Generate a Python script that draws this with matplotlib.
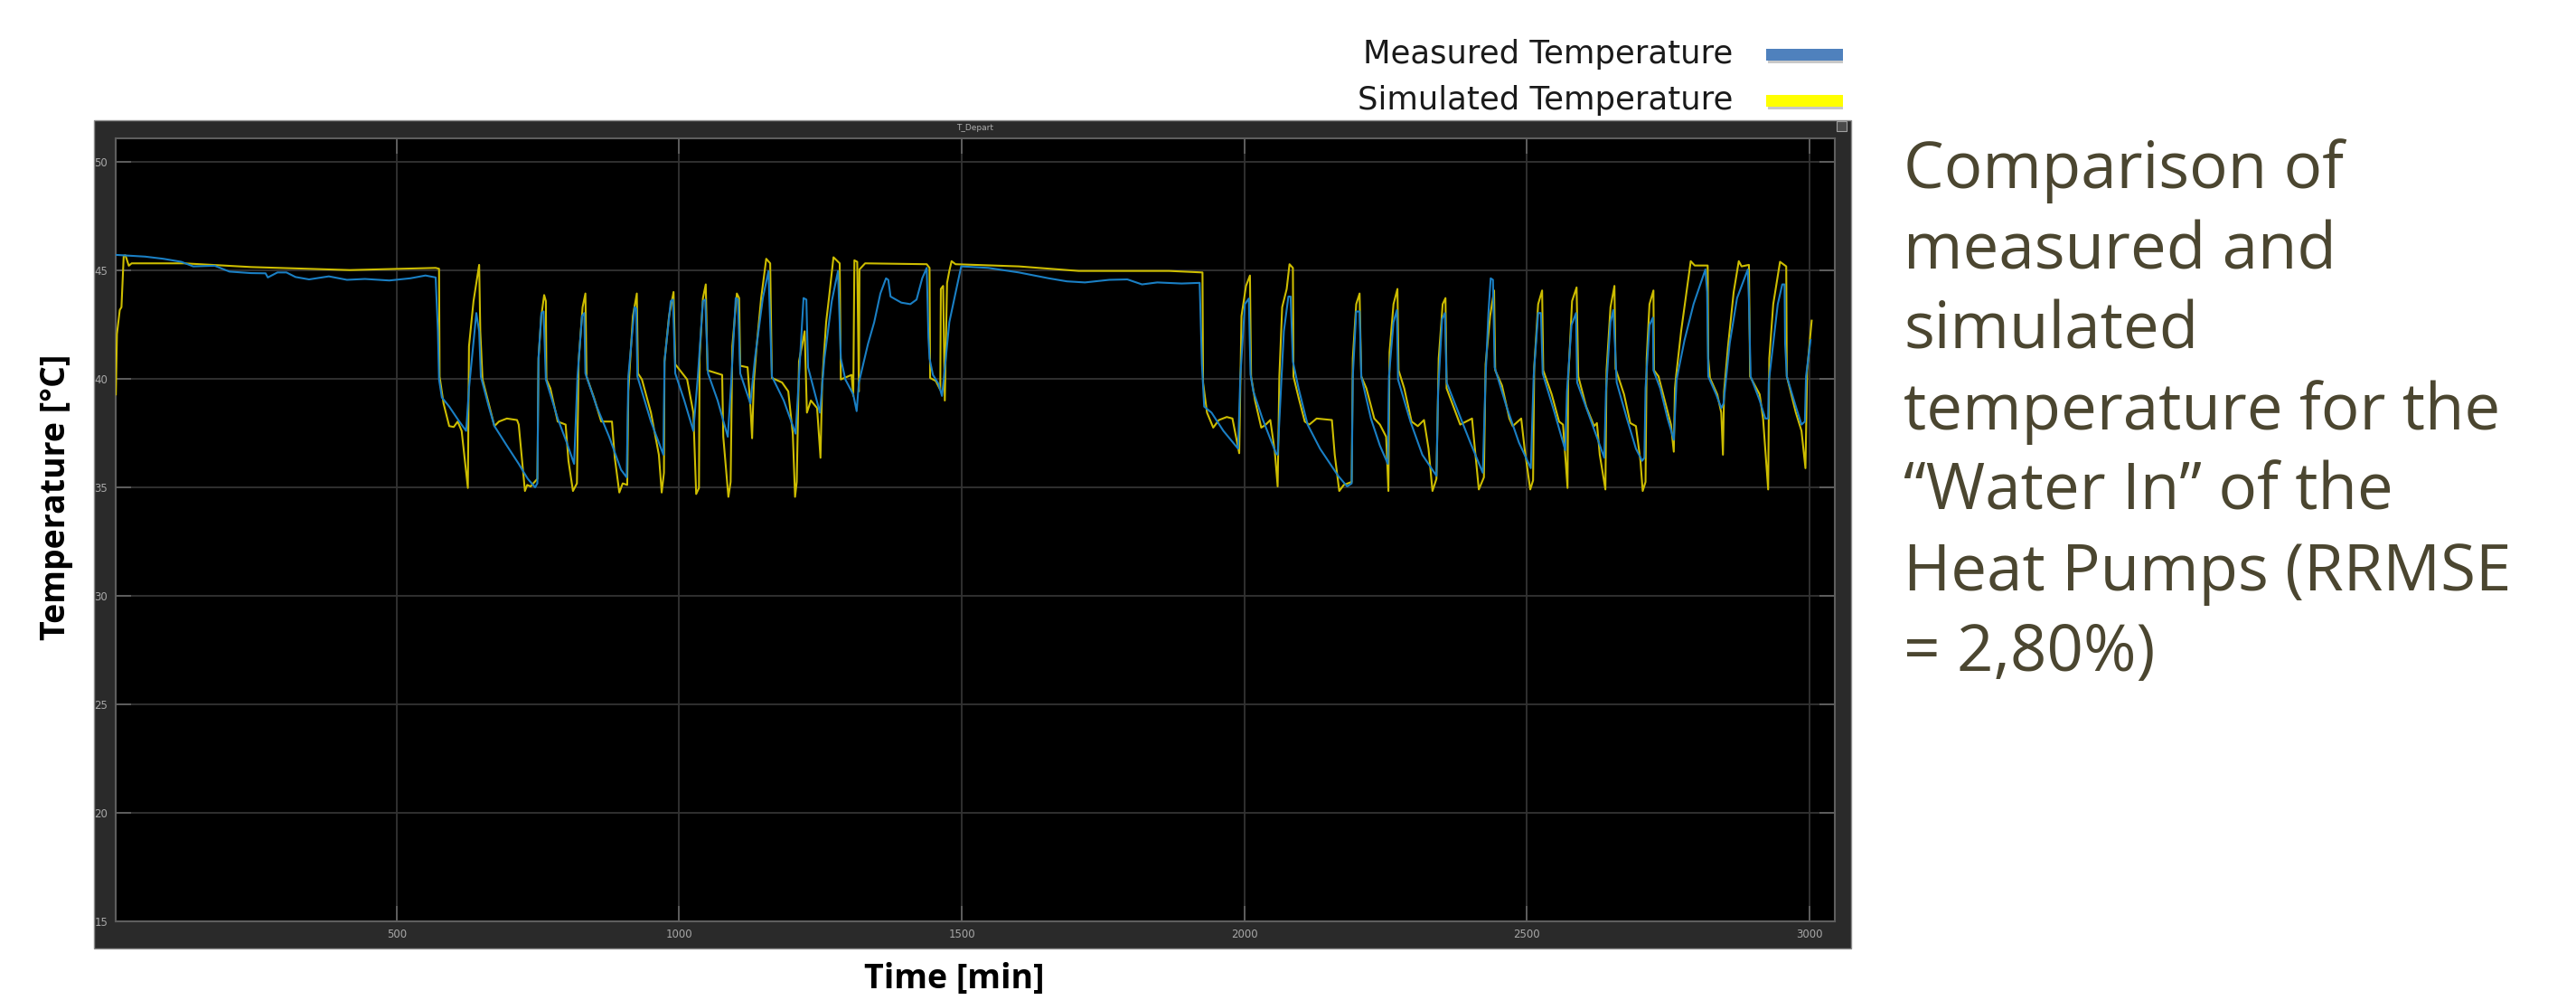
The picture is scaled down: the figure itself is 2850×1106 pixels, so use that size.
import matplotlib
matplotlib.use("Agg")
import matplotlib.pyplot as plt
from matplotlib.patches import Rectangle
import numpy as np

# measured water-in temperature, (time [min], temperature [degC])
measured = [
    (3, 45.71), (55, 45.63), (87, 45.53), (119, 45.39), (140, 45.18), (178, 45.21), (204, 44.94),
    (242, 44.87), (268, 44.86), (272, 44.67), (289, 44.9), (305, 44.9), (321, 44.69), (345, 44.58),
    (380, 44.72), (412, 44.56), (444, 44.6), (487, 44.53), (524, 44.63), (551, 44.76), (569, 44.67),
    (573, 42.19), (575, 39.97), (580, 39.14), (593, 38.72), (609, 38.1), (623, 37.6),
    (628, 39.56), (641, 43.03), (646, 42.19), (649, 40.1), (663, 38.72), (673, 37.82), (695, 36.92),
    (716, 36.08), (732, 35.39), (745, 35.0), (749, 35.18),
    (751, 40.94), (756, 43.03), (760, 43.1), (764, 39.97), (785, 38.17), (801, 37.06), (814, 36.08),
    (820, 40.11), (828, 42.89), (832, 43.03), (834, 40.25), (854, 38.72), (876, 37.33), (897, 35.81), (907, 35.46),
    (910, 40.11), (921, 43.3), (924, 43.24), (926, 40.11), (950, 38.03), (972, 36.5),
    (974, 40.8), (985, 43.58), (989, 43.65), (993, 40.25), (1009, 39.0), (1025, 37.6),
    (1033, 40.11), (1042, 43.58), (1046, 43.65), (1051, 40.25), (1068, 39.0), (1086, 37.33),
    (1092, 39.83), (1100, 43.72), (1104, 43.65), (1108, 40.25), (1126, 38.86),
    (1134, 40.94), (1148, 43.72), (1158, 44.97), (1164, 40.11), (1185, 39.0), (1206, 37.47),
    (1212, 40.11), (1220, 43.72), (1225, 43.65), (1228, 40.53), (1249, 38.44),
    (1257, 40.94), (1270, 43.58), (1281, 44.97), (1286, 40.94), (1294, 39.97), (1308, 39.28), (1314, 38.51), (1318, 39.83),
    (1334, 41.6), (1345, 42.6), (1356, 43.93), (1366, 44.63), (1370, 44.56), (1374, 43.79), (1393, 43.51),
    (1409, 43.44), (1420, 43.65), (1430, 44.63), (1438, 45.11),
    (1441, 41.92), (1443, 40.94), (1449, 40.18), (1459, 39.76), (1465, 39.21), (1467, 39.69),
    (1478, 42.61), (1494, 44.56), (1499, 45.18), (1547, 45.11), (1601, 44.9), (1654, 44.63), (1686, 44.49),
    (1718, 44.44), (1761, 44.56), (1793, 44.58), (1819, 44.35), (1846, 44.44), (1889, 44.39), (1921, 44.42),
    (1925, 40.67), (1929, 38.72), (1942, 38.44), (1963, 37.6), (1989, 36.78),
    (1993, 40.11), (2001, 43.44), (2008, 43.7), (2011, 40.2), (2016, 39.42), (2032, 38.17), (2056, 36.57), (2059, 36.5),
    (2062, 38.03), (2070, 42.19), (2078, 43.79), (2082, 43.79), (2086, 40.8), (2096, 39.56), (2112, 37.89),
    (2134, 36.78), (2166, 35.53), (2182, 35.04), (2190, 35.18),
    (2192, 40.11), (2198, 43.1), (2204, 43.1), (2207, 40.11), (2224, 38.17), (2240, 36.92), (2254, 36.08),
    (2256, 40.11), (2264, 42.61), (2270, 43.17), (2272, 39.97), (2294, 38.03), (2315, 36.5), (2340, 35.53),
    (2343, 39.42), (2350, 42.75), (2355, 43.03), (2358, 39.83), (2379, 38.44), (2400, 37.06), (2422, 35.67),
    (2427, 40.11), (2432, 43.03), (2436, 44.63), (2440, 44.56), (2443, 40.53), (2464, 38.72), (2486, 37.06), (2507, 35.88),
    (2512, 40.11), (2520, 43.03), (2525, 43.03), (2528, 40.25), (2549, 38.44), (2568, 36.71),
    (2571, 39.42), (2579, 42.47), (2587, 43.03), (2589, 39.83), (2614, 38.03), (2637, 36.36),
    (2640, 39.42), (2648, 42.61), (2653, 43.17), (2659, 39.83), (2677, 38.17), (2693, 36.78), (2704, 36.22), (2708, 36.36),
    (2710, 39.56), (2717, 42.47), (2723, 42.82), (2724, 40.39), (2736, 39.56), (2749, 38.17), (2760, 37.19),
    (2765, 39.97), (2779, 41.78), (2795, 43.44), (2816, 45.04), (2819, 44.0), (2821, 40.11), (2835, 39.28),
    (2844, 38.65), (2848, 38.86),
    (2859, 41.64), (2872, 43.72), (2891, 45.04), (2893, 43.58), (2896, 40.11), (2912, 39.0), (2922, 38.17), (2927, 38.17),
    (2928, 39.83), (2944, 43.44), (2952, 44.35), (2956, 44.35), (2957, 41.64), (2960, 40.11), (2976, 38.72),
    (2986, 37.89), (2992, 38.03), (2994, 40.11), (3002, 41.78),
]

# simulated water-in temperature
simulated = [
    (3, 39.28), (5, 42.06), (10, 43.17), (13, 43.3), (17, 45.67), (20, 45.69), (26, 45.21), (31, 45.32),
    (124, 45.32), (242, 45.15), (417, 45.01), (569, 45.11), (575, 45.07),
    (576, 40.1), (583, 38.86), (593, 37.82), (601, 37.78), (608, 38.03), (615, 37.6), (626, 34.97),
    (628, 41.5), (636, 43.58), (646, 45.25), (648, 42.19), (652, 39.97), (673, 37.82), (681, 38.03), (695, 38.17),
    (713, 38.1), (716, 37.89), (727, 34.83), (731, 35.11), (737, 35.04), (749, 35.39),
    (751, 40.94), (756, 42.89), (761, 43.86), (764, 43.58), (765, 39.97), (772, 39.56), (785, 38.03), (799, 37.89),
    (804, 36.22), (812, 34.83), (819, 35.18),
    (822, 40.8), (829, 43.3), (834, 43.93), (836, 40.11), (849, 39.14), (862, 38.03), (881, 38.03), (886, 36.36),
    (894, 34.76), (900, 35.18), (908, 35.11),
    (910, 39.42), (918, 42.89), (925, 43.93), (927, 40.25), (934, 39.97), (950, 38.44), (964, 36.5), (969, 34.76), (973, 35.67),
    (974, 40.8), (982, 42.89), (990, 44.0), (993, 40.67), (1014, 39.97), (1025, 38.44), (1030, 34.69), (1035, 34.97),
    (1036, 40.94), (1042, 43.72), (1047, 44.35), (1050, 40.39), (1076, 40.18), (1078, 37.33), (1087, 34.56), (1091, 35.25),
    (1094, 41.5), (1102, 43.93), (1106, 43.72), (1108, 40.6), (1121, 40.53), (1126, 38.72), (1129, 37.26), (1132, 39.83),
    (1137, 41.5), (1145, 43.72), (1154, 45.53), (1161, 45.32), (1164, 40.04), (1182, 39.83), (1193, 39.42),
    (1201, 37.47), (1205, 34.56), (1208, 35.25),
    (1212, 40.8), (1222, 42.19), (1226, 38.44), (1233, 39.0), (1244, 38.65), (1250, 36.36), (1253, 39.83),
    (1260, 42.61), (1265, 43.72), (1273, 45.6), (1284, 45.32),
    (1286, 39.97), (1305, 40.18), (1308, 39.21), (1310, 45.46), (1315, 45.39), (1318, 39.42), (1319, 45.04),
    (1329, 45.32), (1438, 45.28), (1443, 45.11),
    (1444, 40.04), (1454, 39.9), (1462, 39.49), (1463, 44.14), (1467, 44.28), (1470, 39.0), (1474, 44.42),
    (1478, 44.97), (1482, 45.42), (1489, 45.28), (1601, 45.18), (1707, 44.97), (1867, 44.97), (1926, 44.9),
    (1927, 39.83), (1934, 38.44), (1945, 37.75), (1955, 38.1), (1969, 38.24), (1979, 38.17), (1991, 36.57),
    (1995, 42.89), (2003, 44.28), (2010, 44.76), (2012, 40.11), (2019, 39.0), (2030, 37.75), (2038, 37.89),
    (2046, 38.1), (2054, 36.64), (2059, 35.04),
    (2062, 40.11), (2067, 43.3), (2075, 44.14), (2080, 45.28), (2086, 45.11), (2087, 40.11), (2096, 39.14),
    (2107, 38.03), (2115, 37.89), (2128, 38.17), (2155, 38.1), (2160, 36.5), (2168, 34.83), (2176, 35.11), (2190, 35.25),
    (2192, 40.94), (2198, 43.44), (2204, 43.93), (2207, 40.11), (2216, 39.56), (2230, 38.17), (2240, 37.89),
    (2251, 37.33), (2255, 34.83),
    (2257, 41.22), (2264, 43.44), (2271, 44.14), (2273, 40.39), (2283, 39.56), (2296, 38.03), (2307, 37.82),
    (2318, 38.1), (2326, 36.78), (2333, 34.83), (2340, 35.39),
    (2344, 40.94), (2351, 43.44), (2356, 43.72), (2358, 39.56), (2374, 38.44), (2382, 37.89), (2403, 38.17),
    (2406, 37.33), (2415, 34.9), (2424, 35.46),
    (2427, 40.67), (2435, 42.89), (2442, 44.07), (2444, 40.39), (2456, 39.69), (2469, 38.17), (2475, 37.82),
    (2490, 38.17), (2496, 36.78), (2506, 34.9), (2511, 35.32),
    (2513, 40.53), (2520, 43.44), (2527, 44.07), (2529, 40.39), (2544, 39.28), (2557, 38.03), (2564, 37.89), (2572, 34.97),
    (2573, 39.83), (2580, 43.58), (2588, 44.21), (2591, 40.11), (2605, 38.72), (2619, 37.82), (2624, 37.96),
    (2629, 36.5), (2639, 34.9),
    (2641, 40.39), (2648, 43.3), (2655, 44.28), (2657, 40.46), (2672, 39.28), (2683, 37.96), (2693, 37.82),
    (2701, 36.22), (2705, 34.83), (2710, 35.25),
    (2712, 40.94), (2717, 43.44), (2724, 44.07), (2725, 40.39), (2733, 40.11), (2744, 39.0), (2755, 37.89),
    (2760, 36.64), (2762, 39.56), (2764, 40.11),
    (2773, 42.19), (2781, 43.72), (2790, 45.42), (2797, 45.22), (2820, 45.22), (2821, 40.94), (2824, 40.04),
    (2837, 39.28), (2844, 38.44), (2847, 36.5), (2849, 39.42),
    (2856, 41.5), (2866, 44.0), (2875, 45.42), (2880, 45.18), (2893, 45.25), (2895, 40.11), (2912, 39.28),
    (2918, 38.17), (2927, 34.9), (2929, 40.94),
    (2936, 43.44), (2948, 45.39), (2959, 45.18), (2960, 40.11), (2976, 38.44), (2986, 37.6), (2993, 35.88),
    (2996, 40.39), (3004, 42.68),
]

x_ticks = [500, 1000, 1500, 2000, 2500, 3000]
y_ticks = [15, 20, 25, 30, 35, 40, 45, 50]

caption = ["Comparison of", "measured and", "simulated", "temperature for the",
           "\u201cWater In\u201d of the", "Heat Pumps (RRMSE", "= 2,80%)"]

W, H = 2850, 1106
fig = plt.figure(figsize=(W / 100, H / 100), dpi=100)
fig.patch.set_facecolor("white")

# dark scope window behind the axes
fig.add_artist(Rectangle((104 / W, 1 - 1049 / H), (2048 - 104) / W, (1049 - 133) / H,
                         transform=fig.transFigure, facecolor="#2a2a2a",
                         edgecolor="#8c8c8c", lw=1.0, zorder=0))
fig.add_artist(Rectangle((2032 / W, 1 - 145 / H), 11 / W, 11 / H, transform=fig.transFigure,
                         facecolor="#4a4a4a", edgecolor="#a0a0a0", lw=0.8))
fig.text(1079 / W, 1 - 142 / H, "T_Depart", color="#b0b0b0", fontsize=6.5, ha="center", va="center")

ax = fig.add_axes([127.5 / W, 1 - 1019 / H, (2030 - 127.5) / W, (1019 - 153) / H])
ax.set_facecolor("black")

tm, Tm = np.array(measured).T
ts, Ts = np.array(simulated).T
ax.plot(ts, Ts, color="#cdbd00", lw=1.5, zorder=3)
ax.plot(tm, Tm, color="#1a7fc4", lw=1.5, zorder=4)

ax.set_xlim(2, 3045)
ax.set_ylim(15, 51.08)
ax.set_xticks(x_ticks)
ax.set_yticks(y_ticks)
ax.grid(True, color="#333333", lw=1.3)
ax.set_axisbelow(True)
ax.tick_params(direction="in", length=12, width=1.2, color="#666666",
               labelcolor="#a8a8a8", labelsize=8.5, pad=6,
               top=True, right=True)
for s in ax.spines.values():
    s.set_color("#5e5e5e")
    s.set_linewidth(1.5)

# axis titles
fig.text(1056 / W, 1 - 1083 / H, "Time [min]", family="Open Sans", weight="bold",
         fontsize=27, ha="center", va="center", color="black")
fig.text(62 / W, 1 - 550 / H, "Temperature [\u00b0C]", family="Open Sans", weight="bold",
         fontsize=27, rotation=90, ha="center", va="center", color="black")

# legend drawn like the slide
leg = [("Measured Temperature", "#4f81bd", 60), ("Simulated Temperature", "#ffff00", 111)]
for label, col, yy in leg:
    fig.text(1917 / W, 1 - yy / H, label, fontsize=25.5, ha="right", va="center", color="#1a1a1a")
    fig.add_artist(Rectangle((1956 / W, 1 - (yy + 10) / H), 83 / W, 6 / H,
                             transform=fig.transFigure, facecolor="#c8c8c8", edgecolor="none"))
    fig.add_artist(Rectangle((1954 / W, 1 - (yy + 7) / H), 85 / W, 13 / H,
                             transform=fig.transFigure, facecolor=col, edgecolor="none"))

# caption on the right
for i, line in enumerate(caption):
    fig.text(2106 / W, 1 - (208 + i * 89) / H, line, family="Open Sans", fontsize=51,
             color="#4b4630", ha="left", va="baseline")

fig.savefig("out.png", dpi=100)
